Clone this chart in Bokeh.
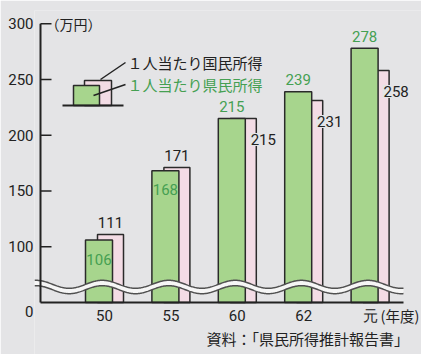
import numpy as np
from bokeh.plotting import figure
from bokeh.models import Range1d, FixedTicker, ColumnDataSource
from bokeh.core.properties import value
from bokeh.embed import file_html
from bokeh.resources import INLINE

# ---------------- data ----------------
categories = ["50", "55", "60", "62", "元"]
prefectural = [106, 168, 215, 239, 278]   # 1人当たり県民所得 (万円)
national = [111, 171, 215, 231, 258]      # 1人当たり国民所得 (万円)
y_ticks = [100, 150, 200, 250, 300]
zero_label = "0"
unit_label = "（万円）"
year_label = "(年度)"
legend_national = "１人当たり国民所得"
legend_pref = "１人当たり県民所得"
source_text = "資料：「県民所得推計報告書」"

# ---------------- style / layout ----------------
BG = "#e4e4e6"
GREEN = "#a7d58d"
PINK = "#f3dce5"
GREEN_TEXT = "#45a052"
INK = "#222222"
NUM_FONT = "Roboto"
JP_FONT = "Noto Sans CJK JP"

W, H = 421, 354
LEFT, RIGHT, TOP, BOTTOM = 34, 0, 10, 0
PX_X = 66.4      # px per category
PX_Y = 1.1155    # px per 万円
BREAK_BASE = 50  # display value at which the (broken) zero line is drawn
BASE_PY = 302    # pixel row of the zero line

x_start = -(98.5 - LEFT) / PX_X
x_end = x_start + (W - LEFT - RIGHT) / PX_X
y_end = BREAK_BASE + (BASE_PY - TOP) / PX_Y
y_start = y_end - (H - TOP - BOTTOM) / PX_Y


def px2x(px):
    return x_start + (px - LEFT) / PX_X


def py2y(py):
    return y_end - (py - TOP) / PX_Y


p = figure(width=W, height=H, output_backend="svg", toolbar_location=None,
           x_range=Range1d(x_start, x_end), y_range=Range1d(y_start, y_end),
           min_border_left=LEFT, min_border_right=RIGHT,
           min_border_top=TOP, min_border_bottom=BOTTOM, x_axis_location=None)
p.background_fill_color = BG
p.border_fill_color = BG
p.outline_line_color = None
p.grid.visible = False

idx = np.arange(len(categories))
GW = 27 / PX_X          # green bar width
P_L = -1.5 / PX_X       # pink left offset from category center
P_R = 24.5 / PX_X       # pink right offset

# national (pink, behind)
p.quad(left=idx + P_L, right=idx + P_R, bottom=BREAK_BASE, top=national,
       fill_color=PINK, line_color="#2a2a2a", line_width=1.5)
# prefectural (green, front)
p.quad(left=idx - GW / 2, right=idx + GW / 2, bottom=BREAK_BASE, top=prefectural,
       fill_color=GREEN, line_color="#2a2a2a", line_width=1.5)

# axis break wave
xs = np.linspace(x_start, px2x(403), 500)
center = py2y(286.5) + (4 / PX_Y) * np.cos(2 * np.pi * (xs - 0.05))
half = 2.7 / PX_Y
p.varea(x=xs, y1=center - half, y2=center + half, fill_color="#f6f6f6")
p.line(xs, center + half, line_color="#505050", line_width=1.5)
p.line(xs, center - half, line_color="#505050", line_width=1.5)

# baseline and vertical axis line
ax_x = px2x(40)
p.segment(x0=[ax_x], y0=[BREAK_BASE], x1=[px2x(403)], y1=[BREAK_BASE],
          line_color=INK, line_width=2)
p.segment(x0=[ax_x], y0=[BREAK_BASE], x1=[ax_x], y1=[max(y_ticks)],
          line_color=INK, line_width=2)
p.segment(x0=[ax_x] * len(y_ticks), y0=y_ticks, x1=[px2x(51)] * len(y_ticks), y1=y_ticks,
          line_color=INK, line_width=1.5)

# y axis (labels only); "0" sits just under the broken zero line
zero_pos = py2y(BASE_PY + 9)
p.yaxis.ticker = FixedTicker(ticks=[zero_pos] + y_ticks)
p.yaxis.major_label_overrides = {zero_pos: zero_label}
p.yaxis.axis_line_color = None
p.yaxis.major_tick_line_color = None
p.yaxis.minor_tick_line_color = None
p.yaxis.major_tick_out = 0
p.yaxis.major_tick_in = 0
p.yaxis.major_label_standoff = 1
p.yaxis.major_label_text_font = NUM_FONT
p.yaxis.major_label_text_font_size = "15px"
p.yaxis.major_label_text_color = INK

# category labels under the axis
cat_src = ColumnDataSource(dict(x=[float(i) + 5.5 / PX_X for i in idx],
                                y=[py2y(315)] * len(categories), t=categories))
p.text(x="x", y="y", text="t", source=cat_src,
       text_font=value(NUM_FONT), text_font_size="15px", text_color=INK,
       text_align="center", text_baseline="middle")

# value labels (rule: taller series labelled above its bar)
nat_x, nat_xo, nat_yo = [], [], []
pre_yo = []
for i, (g, n) in enumerate(zip(prefectural, national)):
    if n > g:
        nat_x.append(i + (P_L + P_R) / 2); nat_xo.append(0); nat_yo.append(-12)
        pre_yo.append(19)
    else:
        nat_x.append(i + P_R); nat_xo.append(7); nat_yo.append(21)
        pre_yo.append(-12)

nat_src = ColumnDataSource(dict(x=nat_x, y=national, t=[str(v) for v in national],
                                xo=nat_xo, yo=nat_yo))
pre_src = ColumnDataSource(dict(x=list(idx.astype(float)), y=prefectural,
                                t=[str(v) for v in prefectural], yo=pre_yo))
p.text(x="x", y="y", text="t", x_offset="xo", y_offset="yo", source=nat_src,
       text_font=value(NUM_FONT), text_font_size="15px", text_color=INK,
       text_align="center", text_baseline="middle",
       background_fill_color=BG, padding=1)
p.text(x="x", y="y", text="t", y_offset="yo", source=pre_src,
       text_font=value(NUM_FONT), text_font_size="15px", text_color=GREEN_TEXT,
       text_align="center", text_baseline="middle")

# legend illustration
p.quad(left=[px2x(84)], right=[px2x(111)], bottom=[py2y(105)], top=[py2y(80)],
       fill_color=PINK, line_color="#2a2a2a", line_width=1.5)
p.quad(left=[px2x(73)], right=[px2x(99)], bottom=[py2y(105)], top=[py2y(85)],
       fill_color=GREEN, line_color="#2a2a2a", line_width=1.5)
p.segment(x0=[px2x(62)], y0=[py2y(105)], x1=[px2x(123)], y1=[py2y(105)],
          line_color=INK, line_width=2)
p.segment(x0=[px2x(100), px2x(93)], y0=[py2y(79), py2y(95)],
          x1=[px2x(125), px2x(125)], y1=[py2y(62), py2y(84)],
          line_color=INK, line_width=1.5)
p.text(x=[px2x(127)], y=[py2y(62)], text=[legend_national],
       text_font=value(JP_FONT), text_font_size="15px", text_color=INK,
       text_baseline="middle")
p.text(x=[px2x(127)], y=[py2y(84)], text=[legend_pref],
       text_font=value(JP_FONT), text_font_size="15px", text_color=GREEN_TEXT,
       text_baseline="middle")

# unit label at top of axis
p.text(x=[px2x(50)], y=[max(y_ticks)], text=[unit_label],
       text_font=value(JP_FONT), text_font_size="14px", text_color=INK,
       text_baseline="middle", x_offset=-5)

# year unit and source
p.text(x=[px2x(380)], y=[py2y(315)], text=[year_label],
       text_font=value(JP_FONT), text_font_size="14.5px", text_color=INK,
       text_baseline="middle")
p.text(x=[px2x(206)], y=[py2y(338)], text=[source_text],
       text_font=value(JP_FONT), text_font_size="15px", text_color=INK,
       text_baseline="middle")

open("out.html", "w").write(file_html(p, INLINE))
